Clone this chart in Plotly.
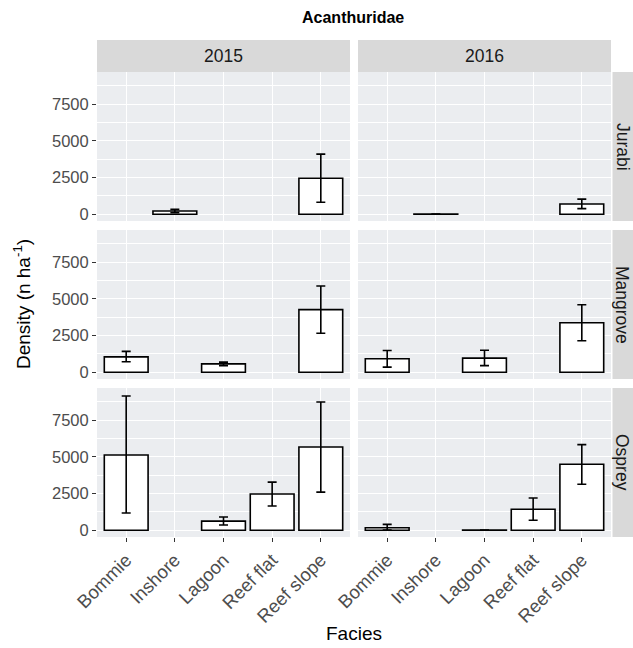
import plotly.graph_objects as go

facies = ["Bommie", "Inshore", "Lagoon", "Reef flat", "Reef slope"]
years = ["2015", "2016"]
sites = ["Jurabi", "Mangrove", "Osprey"]

# mean density and error-bar limits, per site and year (None = no data)
jurabi_2015_mean = [None, 220, None, None, 2450]
jurabi_2015_low = [None, 110, None, None, 820]
jurabi_2015_high = [None, 330, None, None, 4100]
jurabi_2016_mean = [None, 20, None, None, 700]
jurabi_2016_low = [None, 20, None, None, 380]
jurabi_2016_high = [None, 20, None, None, 1030]

mangrove_2015_mean = [1050, None, 570, None, 4270]
mangrove_2015_low = [710, None, 450, None, 2660]
mangrove_2015_high = [1420, None, 690, None, 5880]
mangrove_2016_mean = [920, None, 960, None, 3380]
mangrove_2016_low = [350, None, 450, None, 2150]
mangrove_2016_high = [1480, None, 1500, None, 4600]

osprey_2015_mean = [5130, None, 620, 2470, 5680]
osprey_2015_low = [1180, None, 360, 1650, 2600]
osprey_2015_high = [9160, None, 900, 3280, 8750]
osprey_2016_mean = [170, None, 15, 1430, 4500]
osprey_2016_low = [20, None, 15, 680, 3140]
osprey_2016_high = [400, None, 15, 2200, 5840]

y_ticks = [0, 2500, 5000, 7500]

data = {
    ("Jurabi", "2015"): (jurabi_2015_mean, jurabi_2015_low, jurabi_2015_high),
    ("Jurabi", "2016"): (jurabi_2016_mean, jurabi_2016_low, jurabi_2016_high),
    ("Mangrove", "2015"): (mangrove_2015_mean, mangrove_2015_low, mangrove_2015_high),
    ("Mangrove", "2016"): (mangrove_2016_mean, mangrove_2016_low, mangrove_2016_high),
    ("Osprey", "2015"): (osprey_2015_mean, osprey_2015_low, osprey_2015_high),
    ("Osprey", "2016"): (osprey_2016_mean, osprey_2016_low, osprey_2016_high),
}

W, H = 633, 648
ML, MR, MT, MB = 97, 22, 72, 111
PW = W - ML - MR
PH = H - MT - MB

def px_x(x):
    return (x - ML) / PW

def px_y(y):
    return (H - MB - y) / PH

col_dom = [(px_x(97), px_x(350)), (px_x(358), px_x(611))]
row_dom = [(px_y(221), px_y(72)), (px_y(379), px_y(230)), (px_y(537), px_y(388))]

FONT = "Liberation Sans, Arial, sans-serif"
PANEL_BG = "#EBEDF0"
STRIP_BG = "#D9D9D9"

fig = go.Figure()
layout = {}
shapes = []
annotations = []

for r, site in enumerate(sites):
    for c, yr in enumerate(years):
        idx = r * 2 + c + 1
        xa = "x" if idx == 1 else f"x{idx}"
        ya = "y" if idx == 1 else f"y{idx}"
        mean, low, high = data[(site, yr)]
        up = [None if m is None else h - m for m, h in zip(mean, high)]
        dn = [None if m is None else m - l for m, l in zip(mean, low)]
        fig.add_trace(go.Bar(
            x=facies, y=mean, xaxis=xa, yaxis=ya, width=0.9,
            marker=dict(color="white", line=dict(color="black", width=1.6)),
            error_y=dict(type="data", symmetric=False, array=up, arrayminus=dn,
                         color="black", thickness=1.6, width=4.5),
            showlegend=False, hoverinfo="x+y",
        ))
        xkey = "xaxis" if idx == 1 else f"xaxis{idx}"
        ykey = "yaxis" if idx == 1 else f"yaxis{idx}"
        layout[xkey] = dict(
            domain=col_dom[c], anchor=ya, type="category",
            categoryorder="array", categoryarray=facies,
            range=[-0.6, 4.6], showgrid=True, gridcolor="white", gridwidth=1.1,
            zeroline=False, showline=False,
            ticks="outside" if r == 2 else "", ticklen=4, tickcolor="#333333",
            showticklabels=(r == 2), tickangle=-45,
            tickfont=dict(family=FONT, size=18.5, color="#4D4D4D"),
            fixedrange=True, automargin=False,
        )
        layout[ykey] = dict(
            domain=row_dom[r], anchor=xa, range=[-462, 9702],
            tickvals=y_ticks, ticktext=[str(v) for v in y_ticks],
            showgrid=True, gridcolor="white", gridwidth=1.1,
            minor=dict(dtick=1250, tick0=0, showgrid=True, gridcolor="white", gridwidth=0.5),
            zeroline=False, showline=False,
            ticks="outside" if c == 0 else "", ticklen=4, tickcolor="#333333",
            showticklabels=(c == 0),
            tickfont=dict(family=FONT, size=16.5, color="#4D4D4D"),
            fixedrange=True, automargin=False,
        )

# top strips
for c, yr in enumerate(years):
    x0, x1 = col_dom[c]
    shapes.append(dict(type="rect", xref="paper", yref="paper", x0=x0, x1=x1,
                       y0=px_y(72), y1=px_y(40), fillcolor=STRIP_BG, line=dict(width=0), layer="below"))
    annotations.append(dict(xref="paper", yref="paper", x=(x0 + x1) / 2, y=px_y(56),
                            text=yr, showarrow=False, xanchor="center", yanchor="middle",
                            font=dict(family=FONT, size=17.5, color="#1A1A1A")))
# right strips
for r, site in enumerate(sites):
    y0, y1 = row_dom[r]
    shapes.append(dict(type="rect", xref="paper", yref="paper", x0=px_x(612.5), x1=px_x(634),
                       y0=y0, y1=y1, fillcolor=STRIP_BG, line=dict(width=0), layer="below"))
    annotations.append(dict(xref="paper", yref="paper", x=px_x(622.5), y=(y0 + y1) / 2,
                            text=site, showarrow=False, xanchor="center", yanchor="middle",
                            textangle=90, font=dict(family=FONT, size=17.5, color="#1A1A1A")))

# axis titles
annotations.append(dict(xref="paper", yref="paper", x=px_x(354), y=px_y(633),
                        text="Facies", showarrow=False, xanchor="center", yanchor="middle",
                        font=dict(family=FONT, size=19, color="black")))
annotations.append(dict(xref="paper", yref="paper", x=px_x(22), y=px_y(304),
                        text="Density (n ha<sup>-1</sup>)", showarrow=False,
                        xanchor="center", yanchor="middle", textangle=-90,
                        font=dict(family=FONT, size=19, color="black")))
# title
annotations.append(dict(xref="paper", yref="paper", x=px_x(353), y=px_y(18),
                        text="<b>Acanthuridae</b>", showarrow=False,
                        xanchor="center", yanchor="middle",
                        font=dict(family=FONT, size=16, color="black")))

fig.update_layout(
    width=W, height=H,
    margin=dict(l=ML, r=MR, t=MT, b=MB, autoexpand=False),
    paper_bgcolor="white", plot_bgcolor=PANEL_BG,
    shapes=shapes, annotations=annotations, bargap=0.1,
    **layout,
)

fig.write_html("out.html", config={"displayModeBar": False},
               post_script="document.body.style.margin='0px';document.body.style.padding='0px';")
